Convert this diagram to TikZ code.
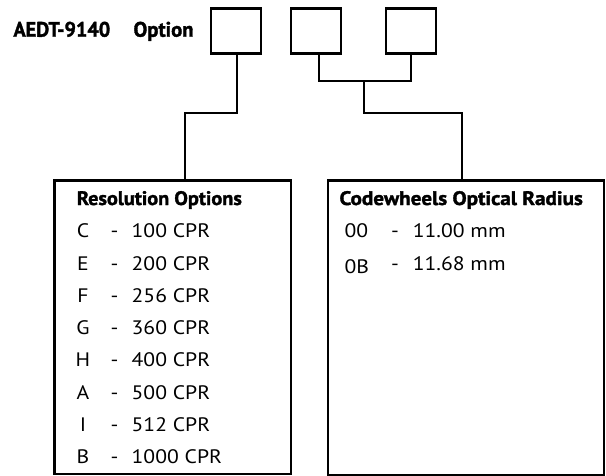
\documentclass[tikz,border=0pt]{standalone}
\usepackage{fontspec}
\setmainfont{PT Sans}[FakeStretch=1.11]
\newfontfamily\hdrfont{PT Sans Bold}[FakeBold=1.6]
\usepackage{graphicx}
\begin{document}
\begin{tikzpicture}[x=1pt,y=-1pt,
  optbox/.style={draw, line width=2.4pt, minimum width=50pt, minimum height=45pt, inner sep=0pt, anchor=north west},
  bigbox/.style={draw, line width=2.2pt, inner sep=0pt, anchor=north west},
  conn/.style={line width=1.8pt},
  ttl/.style={anchor=base west, inner sep=0pt, font=\hdrfont\fontsize{21}{23}\selectfont},
  hdr/.style={anchor=base west, inner sep=0pt, font=\hdrfont\fontsize{19.5}{22}\selectfont},
  ent/.style={anchor=base west, inner sep=0pt, font=\fontsize{19.5}{21}\selectfont},
  code/.style={anchor=base, inner sep=0pt, font=\fontsize{19.5}{21}\selectfont},
]
\useasboundingbox (0,0) rectangle (606,475);
% title
\node[ttl] (t1) at (13.3,36.7) {\resizebox{96.7pt}{\height}{AEDT-9140}};
\node[ttl] (t2) at (133.3,36.7) {\resizebox{60pt}{\height}{Option}};
% option boxes
\node[optbox] (b1) at (210,7.3) {};
\node[optbox] (b2) at (289.5,7.3) {};
\node[optbox] (b3) at (385,7.3) {};
% big boxes
\node[bigbox, minimum width=236.7pt, minimum height=293.7pt] (res) at (53.3,179.3) {};
\node[bigbox, minimum width=276pt, minimum height=294.7pt] (rad) at (326.5,179.3) {};
% junction coordinates
\coordinate (j1) at (184.7,113.3);
\coordinate (j2) at (364.3,80.7);
\coordinate (j3) at (462.3,113.3);
% connectors
\draw[conn] ([xshift=0.7pt]b1.south) |- (j1) -- (j1 |- res.north);
\draw[conn] ([xshift=3.6pt]b2.south) |- (j2) -| (b3.south);
\draw[conn] (j2) |- (j3) -- (j3 |- rad.north);
% left box text
\node[hdr] (rh) at (76.7,205) {\resizebox{165pt}{\height}{Resolution Options}};
\foreach \c/\v [count=\i from 0] in {C/100,E/200,F/256,G/360,H/400,A/500,I/512,B/1000}{
  \node[code] (rc\i) at (83,237.7+32.3*\i) {\c};
  \node[code] (rd\i) at (114.5,237.7+32.3*\i) {-};
  \node[ent] (rv\i) at (131.5,237.7+32.3*\i) {\v\ CPR};
}
% right box text
\node[hdr] (ch) at (339.3,205) {\resizebox{243.4pt}{\height}{Codewheels Optical Radius}};
\node[ent] (c0) at (344.3,237.7) {00};
\node[code] (d0) at (395,237.7) {-};
\node[ent] (v0) at (412.7,237.7) {11.00 mm};
\node[ent] (c1) at (344.3,273.3) {0B};
\node[code] (d1) at (395,270) {-};
\node[ent] (v1) at (412.7,270) {11.68 mm};
\end{tikzpicture}
\end{document}
